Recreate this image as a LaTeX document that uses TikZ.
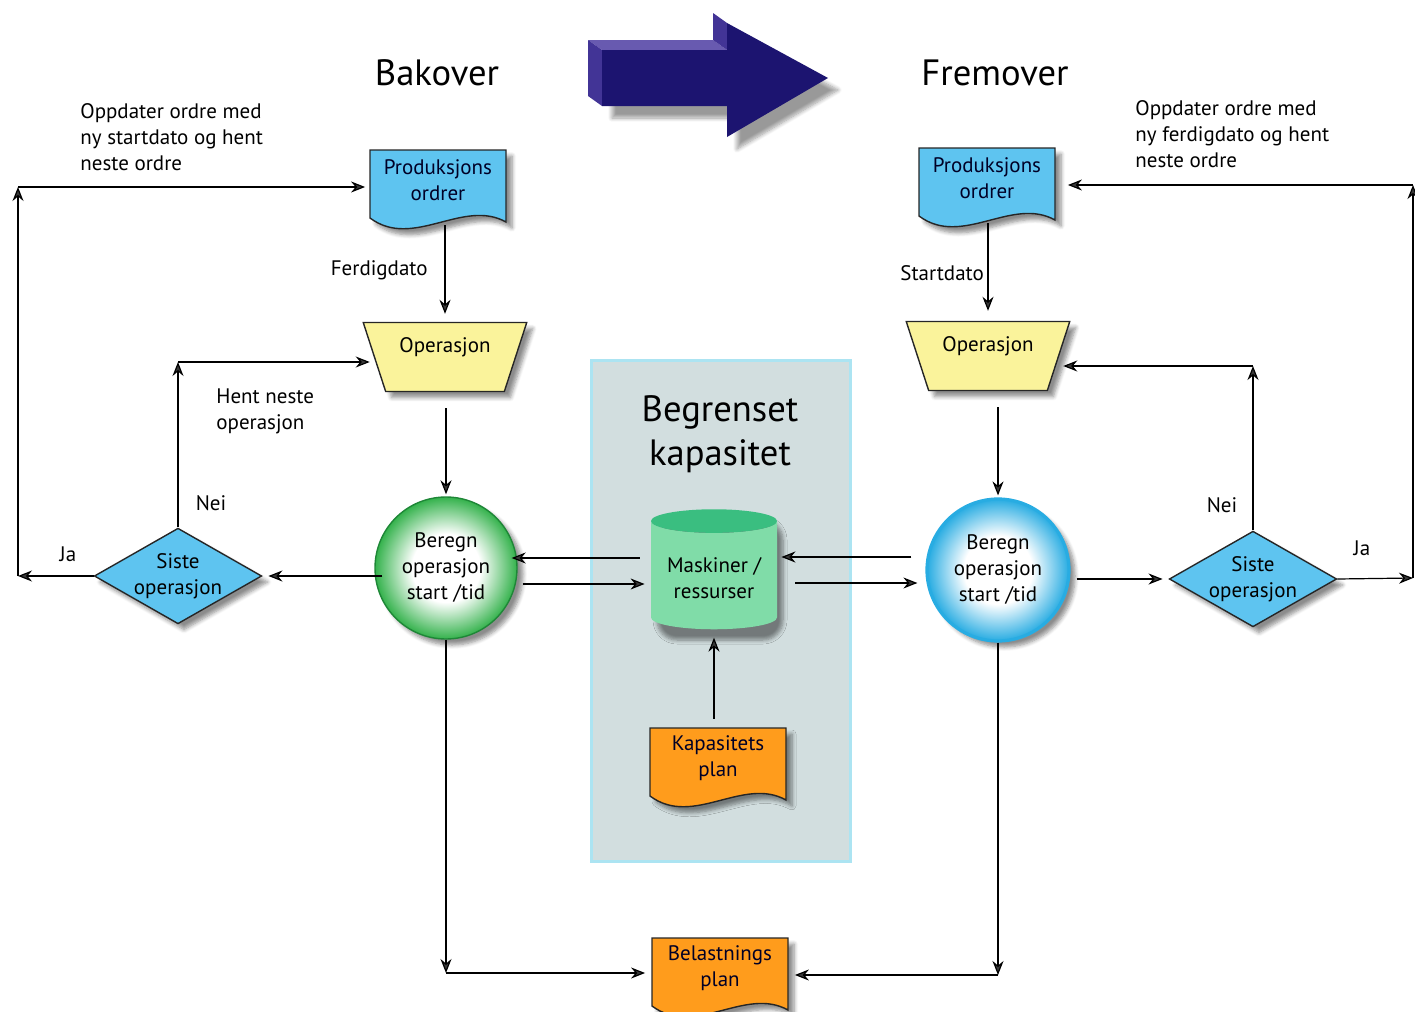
\documentclass[tikz,border=0pt]{standalone}
\usepackage{fontspec}
\setmainfont{PT Sans}
\usetikzlibrary{calc,positioning,shapes.geometric,arrows.meta,shadows.blur}

\definecolor{docblue}{RGB}{94,196,240}
\definecolor{opyellow}{RGB}{250,243,155}
\definecolor{planorange}{RGB}{255,156,28}
\definecolor{ballgreen}{RGB}{52,178,76}
\definecolor{ballgreenline}{RGB}{30,135,55}
\definecolor{ballblue}{RGB}{40,172,226}
\definecolor{cylbody}{RGB}{128,220,168}
\definecolor{cyltop}{RGB}{58,190,128}
\definecolor{panelfill}{RGB}{210,222,223}
\definecolor{panelline}{RGB}{172,228,242}
\definecolor{arrowfront}{RGB}{28,20,112}
\definecolor{arrowtop}{RGB}{104,90,176}
\definecolor{arrowside}{RGB}{66,52,150}

\pgfdeclareradialshading{greenball}{\pgfpointorigin}{color(0bp)=(white); color(12bp)=(white); color(25bp)=(ballgreen); color(50bp)=(ballgreen)}
\pgfdeclareradialshading{blueball}{\pgfpointorigin}{color(0bp)=(white); color(12bp)=(white); color(25bp)=(ballblue); color(50bp)=(ballblue)}

\tikzset{
  arr/.style={-{Stealth[length=7pt,width=5.5pt]}, line width=0.6pt},
  txt/.style={font=\fontsize{10.5}{13}\selectfont},
  lbl/.style={txt, align=left, inner sep=0pt},
  title/.style={font=\fontsize{18.3}{22}\selectfont, align=center},
  softshadow/.style={blur shadow={shadow xshift=3pt, shadow yshift=-3pt, shadow blur steps=6, shadow opacity=45}},
  doctext/.style={txt, align=center, text=black!85!blue, minimum width=68.5pt, minimum height=45pt, inner sep=0pt},
  opbox/.style={trapezium, shape border rotate=180, trapezium angle=72,
    minimum width=82pt, minimum height=34.5pt, inner xsep=0pt, fill=opyellow, draw=black!85, line width=0.7pt,
    txt, text height=7.5pt, text depth=12.3pt, softshadow},
  calcball/.style={circle, minimum size=71pt, inner sep=0pt, txt, align=center, softshadow},
  sistebox/.style={diamond, shape aspect=1.75, inner sep=0pt, fill=docblue, draw=black!85,
    line width=0.7pt, txt, align=center, softshadow},
  cylbox/.style={cylinder, shape border rotate=90, aspect=0.22, minimum width=63pt, minimum height=60pt,
    cylinder uses custom fill, cylinder body fill=cylbody, cylinder end fill=cyltop, txt, align=center},
}

% document shape with wavy bottom, then its text node
\newcommand{\wavedoc}[4]{%
  \filldraw[fill=#3, draw=black!85, line width=0.7pt, softshadow, shift={#2}]
    (-68,-30) -- (68,-30) -- (68,42) .. controls (25,18) and (-25,70) .. (-68,38) -- cycle;
  \node[doctext] (#1) at #2 {#4};
}

\begin{document}
\begin{tikzpicture}[x=0.5pt, y=-0.5pt]
\useasboundingbox (0,0) rectangle (1415,1012);

% Big arrow
\fill[arrowtop] (602,50) -- (588,40) -- (713,40) -- (727,50) -- cycle;
\fill[arrowside] (602,50) -- (588,40) -- (588,96) -- (602,106) -- cycle;
\fill[arrowside] (727,50) -- (713,40) -- (713,13) -- (727,23) -- cycle;
\fill[arrowfront, blur shadow={shadow xshift=5pt, shadow yshift=-6pt, shadow blur steps=8, shadow opacity=40}]
  (602,50) -- (727,50) -- (727,23) -- (828,78) -- (727,137) -- (727,106) -- (602,106) -- cycle;

% Titles
\node[title] (bakover) at (437,73) {Bakover};
\node[title] (fremover) at (995,73) {Fremover};

% Limited capacity panel
\draw[draw=panelline, fill=panelfill, line width=1.5pt] (591,360) rectangle (850,861);
\node[title] (begrenset) at (720,434) {Begrenset\\kapasitet};

% Documents
\wavedoc{prodL}{(438,180)}{docblue}{Produksjons\\ordrer}
\wavedoc{prodR}{(987,178)}{docblue}{Produksjons\\ordrer}
\wavedoc{kap}{(718,758)}{planorange}{Kapasitets\\plan}
\wavedoc{belast}{(720,968)}{planorange}{Belastnings\\plan}

% Operations
\node[opbox] (opL) at (445,357) {Operasjon};
\node[opbox] (opR) at (988,356) {Operasjon};

% Calculation balls
\node[calcball, shading=greenball, draw=ballgreenline, line width=0.7pt] (circL) at (446,568) {Beregn\\operasjon\\start /tid};
\node[calcball, shading=blueball, draw=ballblue, line width=1.6pt] (circR) at (998,570) {Beregn\\operasjon\\start /tid};

% Decisions
\node[sistebox] (sisteL) at (178,576) {Siste\\operasjon};
\node[sistebox] (sisteR) at (1253,579) {Siste\\operasjon};

% Resources (shadow first, the cylinder fill would hide it)
\path[blur shadow={shadow xshift=3pt, shadow yshift=-3pt, shadow blur steps=6, shadow opacity=45}, rounded corners=10pt]
  (651,514) rectangle (777,634);
\node[cylbox] (cyl) at (714,578) {Maskiner /\\ressurser};

% Corner points
\coordinate (jaL) at (18,576);
\coordinate (topL) at (18,187);
\coordinate (neiL) at (178,362);
\coordinate (botL) at (446,973);
\coordinate (jaR) at (1413,578);
\coordinate (topR) at (1413,185);
\coordinate (neiR) at (1253,366);
\coordinate (botR) at (998,975);

% Backward flow
\draw[arr, shorten >=4pt] (prodL.south -| opL.north) -- (opL.north);
\draw[arr, shorten <=8pt, shorten >=1pt] (opL.south -| circL.north) -- (circL.north);
\draw[arr, shorten <=-4pt, shorten >=3pt] (circL.west |- sisteL.east) -- (sisteL.east);
\draw[arr] (sisteL.west) -- (jaL);
\draw[arr] (jaL) -- (topL);
\draw[arr, shorten >=2pt] (topL) -- (topL -| prodL.west);
\draw[arr] (sisteL.north) -- (neiL);
\draw[arr, shorten >=2pt] (neiL) -- (neiL -| opL.west);
\draw[arr, shorten >=2.5pt] ([shift={(-11,-20)}]cyl.west) -- ([shift={(-11,-20)}]cyl.west -| circL.east);
\draw[arr, shorten <=2.5pt, shorten >=3pt] ([yshift=-3pt]cyl.west -| circL.east) -- ([yshift=-3pt]cyl.west);
\draw[arr] (circL.south) -- (botL);
\draw[arr, shorten >=3pt] (botL) -- (botL -| belast.west);

% Capacity plan into resources
\draw[arr, shorten >=4pt] ([yshift=-3pt]kap.north -| cyl.south) -- (cyl.south);

% Forward flow
\draw[arr, shorten >=5pt] (prodR.south -| opR.north) -- (opR.north);
\draw[arr, shorten <=8pt, shorten >=1pt] (opR.south -| circR.north) -- (circR.north);
\draw[arr, shorten >=9pt] ([shift={(-14,-13)}]circR.west) -- ([shift={(-14,-13)}]circR.west -| cyl.east);
\draw[arr, shorten <=9pt, shorten >=4pt] ([yshift=-6.5pt]circR.west -| cyl.east) -- ([yshift=-6.5pt]circR.west);
\draw[arr, shorten <=3pt, shorten >=3pt] (circR.east |- sisteR.west) -- (sisteR.west);
\draw[arr] (sisteR.east) -- (jaR);
\draw[arr] (jaR) -- (topR);
\draw[arr, shorten >=6pt] (topR) -- (topR -| prodR.east);
\draw[arr] (sisteR.north) -- (neiR);
\draw[arr, shorten >=2pt] (neiR) -- (neiR -| opR.east);
\draw[arr] (circR.south) -- (botR);
\draw[arr, shorten >=3pt] (botR) -- (botR -| belast.east);

% Labels
\node[lbl, anchor=west] (oppdL) at (80,137) {Oppdater ordre med\\ny startdato og hent\\neste ordre};
\node[lbl, anchor=west] (oppdR) at (1135,134) {Oppdater ordre med\\ny ferdigdato og hent\\neste ordre};
\node[lbl, anchor=east] (ferdig) at (428,270) {Ferdigdato};
\node[lbl, anchor=west] (start) at (900,273) {Startdato};
\node[lbl, anchor=west] (hent) at (216,411) {Hent neste\\operasjon};
\node[lbl] (neiLtxt) at (211,503) {Nei};
\node[lbl] (neiRtxt) at (1222,505) {Nei};
\node[lbl] (jaLtxt) at (68,554) {Ja};
\node[lbl] (jaRtxt) at (1362,548) {Ja};
\end{tikzpicture}
\end{document}
